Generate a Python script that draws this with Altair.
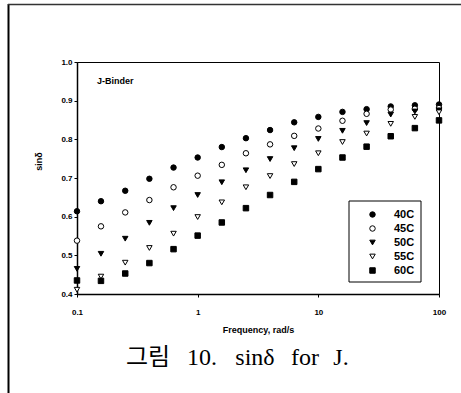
import altair as alt
import pandas as pd

freq = [0.1, 0.158, 0.251, 0.398, 0.631, 1.0, 1.585, 2.512, 3.981, 6.31,
        10.0, 15.85, 25.12, 39.81, 63.1, 100.0]
series = ["40C", "45C", "50C", "55C", "60C"]
v40 = [0.614, 0.640, 0.667, 0.698, 0.727, 0.753, 0.780, 0.803, 0.824, 0.844,
       0.858, 0.871, 0.878, 0.885, 0.888, 0.890]
v45 = [0.538, 0.575, 0.611, 0.643, 0.676, 0.706, 0.734, 0.764, 0.787, 0.809,
       0.828, 0.848, 0.866, 0.877, 0.879, 0.881]
v50 = [0.465, 0.504, 0.543, 0.584, 0.622, 0.656, 0.689, 0.720, 0.749, 0.777,
       0.801, 0.822, 0.842, 0.864, 0.872, 0.875]
v55 = [0.411, 0.445, 0.481, 0.519, 0.556, 0.599, 0.637, 0.676, 0.705, 0.736,
       0.764, 0.793, 0.815, 0.840, 0.858, 0.870]
v60 = [0.435, 0.434, 0.453, 0.480, 0.516, 0.551, 0.585, 0.622, 0.656, 0.690,
       0.723, 0.753, 0.781, 0.808, 0.829, 0.849]
x_ticks = [0.1, 1, 10, 100]
y_ticks = [0.4, 0.5, 0.6, 0.7, 0.8, 0.9, 1.0]
caption_words = ["그림", "10.", "sinδ", "for", "J."]
caption_x = [71, 125, 178, 228, 264]

rows = []
for name, vals in zip(series, [v40, v45, v50, v55, v60]):
    for f, v in zip(freq, vals):
        rows.append({"freq": f, "sin": v, "temp": name})
df = pd.DataFrame(rows)

shapes = ["circle", "circle", "triangle-down", "triangle-down", "square"]
fills = ["black", "white", "black", "white", "black"]
strokes = ["black"] * 5

FONT = "Liberation Sans"

legend = alt.Legend(
    title=None, orient="none", legendX=290, legendY=147,
    labelFont=FONT, labelFontWeight="bold", labelFontSize=11, labelColor="black",
    labelOffset=16, rowPadding=2, padding=0,
    symbolStrokeColor="black", symbolStrokeWidth=1, symbolSize=30,
)

points = alt.Chart(df).mark_point(
    filled=True, stroke="black", strokeWidth=1, size=30, opacity=1
).encode(
    x=alt.X("freq:Q", scale=alt.Scale(type="log", domain=[0.1, 100]),
            axis=alt.Axis(values=x_ticks, title="Frequency, rad/s",
                          labelExpr="datum.value < 1 ? '0.1' : format(datum.value, 'd')",
                          tickSize=3, labelPadding=11, labelFlush=False,
                          titleY=35, titleBaseline="middle")),
    y=alt.Y("sin:Q", scale=alt.Scale(domain=[0.4, 1.0]),
            axis=alt.Axis(values=y_ticks, format=".1f", title="sinδ",
                          tickSize=3, labelPadding=2, labelFlush=False,
                          titleX=-39, titleY=99, titleBaseline="middle")),
    shape=alt.Shape("temp:N", scale=alt.Scale(domain=series, range=shapes), legend=legend),
    fill=alt.Fill("temp:N", scale=alt.Scale(domain=series, range=fills), legend=legend),
    stroke=alt.Stroke("temp:N", scale=alt.Scale(domain=series, range=strokes), legend=legend),
)

one = pd.DataFrame({"a": [0]})

legend_box = alt.Chart(one).mark_rect(fill="white", stroke="black", strokeWidth=1).encode(
    x=alt.value(272), x2=alt.value(344), y=alt.value(139), y2=alt.value(220)
)

frame_left = alt.Chart(one).mark_rule(color="black", strokeWidth=2).encode(
    x=alt.value(-68.5), y=alt.value(-58), y2=alt.value(331)
)
frame_top = alt.Chart(one).mark_rule(color="#333333", strokeWidth=1.5).encode(
    x=alt.value(-69), x2=alt.value(384), y=alt.value(-57.5)
)

jbinder = alt.Chart(one).mark_text(
    text="J-Binder", font=FONT, fontWeight="bold", fontSize=9, align="left",
    baseline="middle", color="black"
).encode(x=alt.value(20), y=alt.value(19))

cap_df = pd.DataFrame({"w": caption_words, "px": caption_x})
caption = alt.Chart(cap_df).mark_text(
    font="Liberation Serif, Noto Sans CJK KR",
    fontSize=24, align="center", baseline="alphabetic", color="black"
).encode(x=alt.X("px:Q", scale=None), y=alt.value(303), text="w:N")

chart = alt.layer(
    frame_left, frame_top, legend_box, points, jbinder, caption
).properties(
    width=362, height=232, autosize="none",
    padding={"left": 77, "top": 62, "right": 22, "bottom": 99},
    background="white",
).configure_view(
    stroke="black", strokeWidth=1
).configure_axis(
    grid=False, domainColor="black", domainWidth=1.5, tickColor="black",
    labelColor="black", labelFont=FONT, labelFontWeight="bold", labelFontSize=8,
    titleColor="black", titleFont=FONT, titleFontWeight="bold", titleFontSize=9,
)

chart.save("out.html", embed_options={"renderer": "svg", "actions": False})
